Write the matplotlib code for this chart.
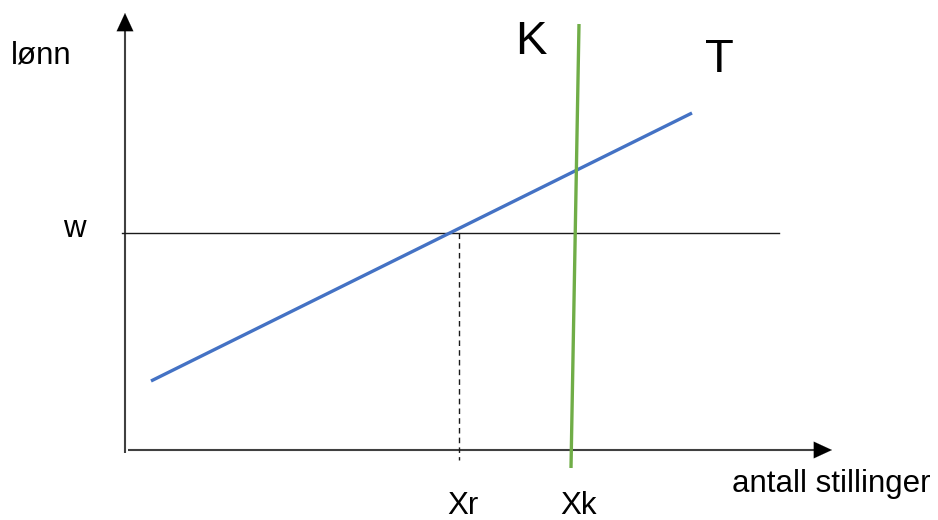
import matplotlib
matplotlib.use("Agg")
import matplotlib.pyplot as plt

plt.rcParams['font.family'] = ['Liberation Sans', 'DejaVu Sans']

# diagram units: origin where the two axes meet
T_x = [26, 567]      # tilbud (blue)
T_y = [69, 337]
K_x = [454, 446]     # kurve K (green)
K_y = [426, -18]
w_level = 217
w_x = [-3, 654]
Xr = 334
Xr_bottom = -10
yaxis_top = 437
xaxis_end = 707

fig = plt.figure(figsize=(9.38, 5.2), dpi=100)
ax = fig.add_axes([0, 0, 1, 1])
ax.set_xlim(-125, 813)
ax.set_ylim(-70, 450)
ax.axis('off')

axis_col = '#404040'
# y-axis
ax.plot([0, 0], [-3, yaxis_top - 12], color=axis_col, lw=1.5, solid_capstyle='butt')
ax.annotate('', xy=(0, yaxis_top), xytext=(0, yaxis_top - 14),
            arrowprops=dict(arrowstyle='-|>,head_length=0.65,head_width=0.3',
                            mutation_scale=20, color='black', lw=0.1,
                            shrinkA=0, shrinkB=0))
# x-axis
ax.plot([3, xaxis_end - 12], [0, 0], color=axis_col, lw=1.5, solid_capstyle='butt')
ax.annotate('', xy=(xaxis_end, 0), xytext=(xaxis_end - 14, 0),
            arrowprops=dict(arrowstyle='-|>,head_length=0.65,head_width=0.3',
                            mutation_scale=20, color='black', lw=0.1,
                            shrinkA=0, shrinkB=0))

# wage line and dashed drop line
ax.plot(w_x, [w_level, w_level], color='#1a1a1a', lw=1.0)
ax.plot([Xr, Xr], [w_level, Xr_bottom], color='#1a1a1a', lw=1.0,
        linestyle=(0, (4, 3)))

ax.plot(T_x, T_y, color='#4472C4', lw=2.4, solid_capstyle='butt')
ax.plot(K_x, K_y, color='#70AD47', lw=2.4, solid_capstyle='butt')

fs = 22.5
ax.text(-114, 386, 'lønn', fontsize=fs, va='baseline', ha='left')
ax.text(-62, 213, 'w', fontsize=fs, va='baseline', ha='left')
ax.text(390, 396, 'K', fontsize=34, va='baseline', ha='left')
ax.text(580, 378, 'T', fontsize=34, va='baseline', ha='left')
ax.text(322, -64, 'Xr', fontsize=fs, va='baseline', ha='left')
ax.text(435, -64, 'Xk', fontsize=fs, va='baseline', ha='left')
ax.text(607, -42, 'antall stillinger', fontsize=fs, va='baseline', ha='left')

plt.savefig('out.png', dpi=100)
